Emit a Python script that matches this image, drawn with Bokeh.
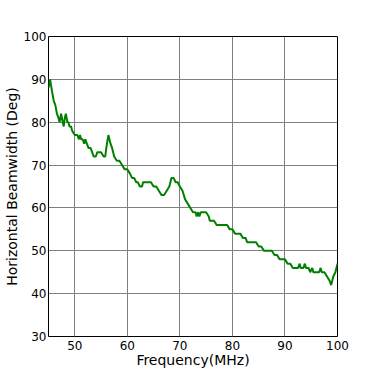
from bokeh.plotting import figure
from bokeh.embed import file_html
from bokeh.resources import INLINE
from bokeh.models import Range1d, FixedTicker

freq = [45.0, 45.3, 45.7, 46.0, 46.3, 46.6, 46.9, 47.1, 47.4, 47.7, 47.9, 48.1, 48.3, 48.6,
        48.8, 49.0, 49.3, 49.5, 50.0, 50.5, 50.8, 51.0, 51.2, 51.5, 51.8, 52.0, 52.3, 52.6,
        53.0, 53.3, 53.6, 54.0, 54.3, 55.0, 55.5, 55.8, 56.0, 56.4, 56.8, 57.1, 57.5, 58.0,
        58.5, 59.0, 59.5, 60.0, 60.5, 60.9, 61.3, 61.7, 62.0, 62.4, 62.8, 63.0, 63.5, 64.0,
        64.5, 65.0, 65.5, 66.0, 66.5, 67.0, 67.5, 68.0, 68.4, 68.8, 69.2, 69.6, 70.0, 70.5,
        71.0, 71.5, 72.0, 72.5, 73.0, 73.2, 73.5, 73.7, 74.0, 74.5, 75.0, 75.5, 75.7, 76.0,
        76.5, 77.0, 77.5, 78.0, 78.5, 79.0, 79.5, 80.0, 80.5, 81.0, 81.5, 82.0, 82.5, 82.8,
        83.5, 84.0, 84.5, 85.0, 85.5, 86.0, 86.5, 87.0, 87.5, 88.0, 88.5, 89.0, 89.5, 90.0,
        90.5, 91.0, 91.5, 92.0, 92.5, 92.8, 93.0, 93.5, 93.8, 94.0, 94.5, 94.8, 95.2, 95.4,
        96.0, 96.5, 96.8, 97.0, 97.5, 98.0, 98.5, 98.8, 99.2, 99.6, 100.0]
beamwidth = [88, 90, 87, 85, 84, 82, 81, 80, 82, 80, 79, 81, 82, 80,
             80, 79, 79, 78, 77, 77, 76, 77, 76, 76, 75, 76, 75, 74,
             74, 73, 72, 72, 73, 73, 72, 72, 74, 77, 75, 74, 72, 71,
             71, 70, 69, 69, 68, 67, 67, 66, 66, 65, 65, 66, 66, 66,
             66, 65, 65, 64, 63, 63, 64, 65, 67, 67, 66, 66, 65, 64,
             62, 61, 60, 59, 59, 58, 59, 58, 59, 59, 59, 58, 57, 57,
             57, 56, 56, 56, 56, 56, 55, 55, 54, 54, 54, 53, 53, 52,
             52, 52, 52, 51, 51, 50, 50, 50, 50, 49, 49, 48, 48, 48,
             47, 47, 46, 46, 46, 47, 46, 46, 47, 46, 46, 45, 46, 45,
             45, 45, 46, 45, 45, 44, 43, 42, 44, 45, 47]

x_ticks = [50, 60, 70, 80, 90, 100]
y_ticks = [30, 40, 50, 60, 70, 80, 90, 100]

p = figure(width=358, height=370, output_backend="svg", toolbar_location=None,
           x_range=Range1d(45, 100), y_range=Range1d(30, 100),
           min_border_left=0, min_border_bottom=0, min_border_top=36, min_border_right=21)

p.line(freq, beamwidth, line_color="#008000", line_width=2)

p.xaxis.ticker = FixedTicker(ticks=x_ticks)
p.yaxis.ticker = FixedTicker(ticks=y_ticks)
p.xaxis.axis_label = "Frequency(MHz)"
p.yaxis.axis_label = "Horizontal Beamwidth (Deg)"
for ax in (p.xaxis, p.yaxis):
    ax.axis_label_text_font = "DejaVu Sans"
    ax.axis_label_text_font_size = "14px"
    ax.axis_label_text_font_style = "normal"
    ax.axis_label_text_color = "black"
    ax.major_label_text_font = "DejaVu Sans"
    ax.major_label_text_font_size = "12px"
    ax.major_label_text_color = "black"
    ax.major_tick_in = 0
    ax.major_tick_out = 0
    ax.minor_tick_in = 0
    ax.minor_tick_out = 0
    ax.axis_line_color = None
    ax.major_label_standoff = 2
    ax.axis_label_standoff = 1
p.xaxis.major_label_standoff = 4
p.xaxis.axis_label_standoff = -1

p.grid.grid_line_color = "#808080"
p.grid.grid_line_width = 1
p.outline_line_color = "black"
p.outline_line_width = 1
p.outline_line_alpha = 1
p.background_fill_color = "white"
p.border_fill_color = "white"

open("out.html", "w").write(file_html(p, INLINE))
